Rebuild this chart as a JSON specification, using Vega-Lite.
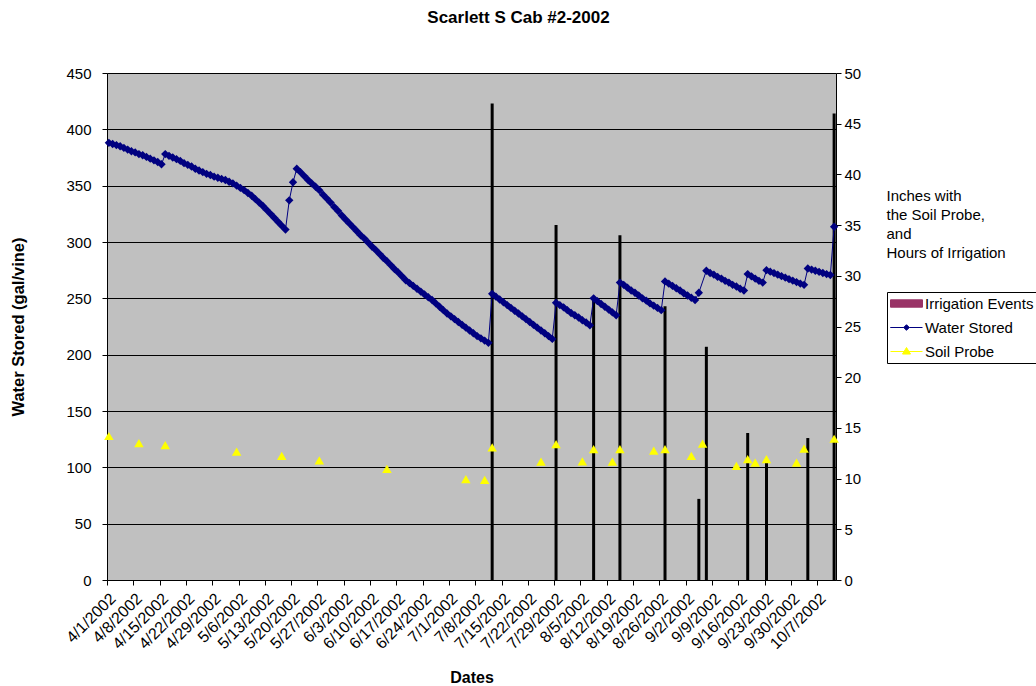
{
  "$schema": "https://vega.github.io/schema/vega-lite/v6.json",
  "width": 729,
  "height": 507,
  "autosize": {"type": "none"},
  "padding": {"left": 107, "top": 73, "right": 200, "bottom": 106},
  "background": "white",
  "title": {"text": "Scarlett S Cab #2-2002", "font": "Liberation Sans", "fontSize": 17, "fontWeight": "bold", "color": "black", "anchor": "middle", "dx": 47, "baseline": "middle", "offset": 31},
  "datasets": {
    "water": [
      {"date":"2002-04-01T00:00","gal":388},{"date":"2002-04-02T00:00","gal":387},{"date":"2002-04-03T00:00","gal":386},{"date":"2002-04-04T00:00","gal":385},{"date":"2002-04-05T00:00","gal":383.5},{"date":"2002-04-06T00:00","gal":382},{"date":"2002-04-07T00:00","gal":380.5},{"date":"2002-04-08T00:00","gal":379.5},{"date":"2002-04-09T00:00","gal":378},{"date":"2002-04-10T00:00","gal":377},{"date":"2002-04-11T00:00","gal":375.5},{"date":"2002-04-12T00:00","gal":374},{"date":"2002-04-13T00:00","gal":372.5},{"date":"2002-04-14T00:00","gal":371},{"date":"2002-04-15T00:00","gal":369},{"date":"2002-04-16T00:00","gal":378},{"date":"2002-04-17T00:00","gal":376.5},{"date":"2002-04-18T00:00","gal":375},{"date":"2002-04-19T00:00","gal":373.5},{"date":"2002-04-20T00:00","gal":372},{"date":"2002-04-21T00:00","gal":370},{"date":"2002-04-22T00:00","gal":368.5},{"date":"2002-04-23T00:00","gal":367},{"date":"2002-04-24T00:00","gal":365},{"date":"2002-04-25T00:00","gal":363.5},{"date":"2002-04-26T00:00","gal":362},{"date":"2002-04-27T00:00","gal":360.5},{"date":"2002-04-28T00:00","gal":359.5},{"date":"2002-04-29T00:00","gal":358},{"date":"2002-04-30T00:00","gal":357},
      {"date":"2002-05-01T00:00","gal":356},{"date":"2002-05-02T00:00","gal":355},{"date":"2002-05-03T00:00","gal":353.5},{"date":"2002-05-04T00:00","gal":352},{"date":"2002-05-05T00:00","gal":350},{"date":"2002-05-06T00:00","gal":348},{"date":"2002-05-07T00:00","gal":346},{"date":"2002-05-08T00:00","gal":343.5},{"date":"2002-05-09T00:00","gal":341},{"date":"2002-05-10T00:00","gal":338},{"date":"2002-05-11T00:00","gal":335},{"date":"2002-05-12T00:00","gal":332},{"date":"2002-05-13T00:00","gal":328.5},{"date":"2002-05-14T00:00","gal":325},{"date":"2002-05-15T00:00","gal":321.5},{"date":"2002-05-16T00:00","gal":318},{"date":"2002-05-17T00:00","gal":314.5},{"date":"2002-05-18T00:00","gal":311},{"date":"2002-05-19T00:00","gal":337},{"date":"2002-05-20T00:00","gal":353},{"date":"2002-05-21T00:00","gal":365},{"date":"2002-05-22T00:00","gal":362},{"date":"2002-05-23T00:00","gal":358.5},{"date":"2002-05-24T00:00","gal":355},{"date":"2002-05-25T00:00","gal":352},{"date":"2002-05-26T00:00","gal":349},{"date":"2002-05-27T00:00","gal":346},{"date":"2002-05-28T00:00","gal":342},{"date":"2002-05-29T00:00","gal":338.5},{"date":"2002-05-30T00:00","gal":335},{"date":"2002-05-31T00:00","gal":331},
      {"date":"2002-06-01T00:00","gal":327.5},{"date":"2002-06-02T00:00","gal":323.5},{"date":"2002-06-03T00:00","gal":320},{"date":"2002-06-04T00:00","gal":316.5},{"date":"2002-06-05T00:00","gal":313},{"date":"2002-06-06T00:00","gal":309.5},{"date":"2002-06-07T00:00","gal":306},{"date":"2002-06-08T00:00","gal":303},{"date":"2002-06-09T00:00","gal":299.5},{"date":"2002-06-10T00:00","gal":296},{"date":"2002-06-11T00:00","gal":293},{"date":"2002-06-12T00:00","gal":289.5},{"date":"2002-06-13T00:00","gal":286},{"date":"2002-06-14T00:00","gal":283},{"date":"2002-06-15T00:00","gal":279.5},{"date":"2002-06-16T00:00","gal":276},{"date":"2002-06-17T00:00","gal":273},{"date":"2002-06-18T00:00","gal":269.5},{"date":"2002-06-19T00:00","gal":266},{"date":"2002-06-20T00:00","gal":263.5},{"date":"2002-06-21T00:00","gal":261},{"date":"2002-06-22T00:00","gal":258.5},{"date":"2002-06-23T00:00","gal":256},{"date":"2002-06-24T00:00","gal":253.5},{"date":"2002-06-25T00:00","gal":251},{"date":"2002-06-26T00:00","gal":248.5},{"date":"2002-06-27T00:00","gal":245.5},{"date":"2002-06-28T00:00","gal":242.5},{"date":"2002-06-29T00:00","gal":239.5},{"date":"2002-06-30T00:00","gal":236.5},
      {"date":"2002-07-01T00:00","gal":234},{"date":"2002-07-02T00:00","gal":231.5},{"date":"2002-07-03T00:00","gal":229},{"date":"2002-07-04T00:00","gal":226.5},{"date":"2002-07-05T00:00","gal":224},{"date":"2002-07-06T00:00","gal":221.5},{"date":"2002-07-07T00:00","gal":219},{"date":"2002-07-08T00:00","gal":216.5},{"date":"2002-07-09T00:00","gal":214.5},{"date":"2002-07-10T00:00","gal":212.5},{"date":"2002-07-11T00:00","gal":210.5},{"date":"2002-07-12T00:00","gal":254},{"date":"2002-07-13T00:00","gal":251.5},{"date":"2002-07-14T00:00","gal":249},{"date":"2002-07-15T00:00","gal":246.5},{"date":"2002-07-16T00:00","gal":244},{"date":"2002-07-17T00:00","gal":241.5},{"date":"2002-07-18T00:00","gal":239},{"date":"2002-07-19T00:00","gal":236.5},{"date":"2002-07-20T00:00","gal":234},{"date":"2002-07-21T00:00","gal":231.5},{"date":"2002-07-22T00:00","gal":229},{"date":"2002-07-23T00:00","gal":226.5},{"date":"2002-07-24T00:00","gal":224},{"date":"2002-07-25T00:00","gal":221.5},{"date":"2002-07-26T00:00","gal":219},{"date":"2002-07-27T00:00","gal":216.5},{"date":"2002-07-28T00:00","gal":214},{"date":"2002-07-29T00:00","gal":246},{"date":"2002-07-30T00:00","gal":244},{"date":"2002-07-31T00:00","gal":242},
      {"date":"2002-08-01T00:00","gal":239.5},{"date":"2002-08-02T00:00","gal":237},{"date":"2002-08-03T00:00","gal":235},{"date":"2002-08-04T00:00","gal":233},{"date":"2002-08-05T00:00","gal":230.5},{"date":"2002-08-06T00:00","gal":228.5},{"date":"2002-08-07T00:00","gal":226},{"date":"2002-08-08T00:00","gal":250},{"date":"2002-08-09T00:00","gal":247.5},{"date":"2002-08-10T00:00","gal":245},{"date":"2002-08-11T00:00","gal":242.5},{"date":"2002-08-12T00:00","gal":240},{"date":"2002-08-13T00:00","gal":237.5},{"date":"2002-08-14T00:00","gal":235},{"date":"2002-08-15T00:00","gal":264},{"date":"2002-08-16T00:00","gal":262},{"date":"2002-08-17T00:00","gal":259.5},{"date":"2002-08-18T00:00","gal":257},{"date":"2002-08-19T00:00","gal":255},{"date":"2002-08-20T00:00","gal":252.5},{"date":"2002-08-21T00:00","gal":250},{"date":"2002-08-22T00:00","gal":248},{"date":"2002-08-23T00:00","gal":245.5},{"date":"2002-08-24T00:00","gal":243.5},{"date":"2002-08-25T00:00","gal":241.5},{"date":"2002-08-26T00:00","gal":239.5},{"date":"2002-08-27T00:00","gal":265},{"date":"2002-08-28T00:00","gal":263},{"date":"2002-08-29T00:00","gal":261},{"date":"2002-08-30T00:00","gal":259},{"date":"2002-08-31T00:00","gal":257},
      {"date":"2002-09-01T00:00","gal":254.5},{"date":"2002-09-02T00:00","gal":252.5},{"date":"2002-09-03T00:00","gal":250.5},{"date":"2002-09-04T00:00","gal":248.5},{"date":"2002-09-05T00:00","gal":255},{"date":"2002-09-07T00:00","gal":274.5},{"date":"2002-09-08T00:00","gal":272.5},{"date":"2002-09-09T00:00","gal":271},{"date":"2002-09-10T00:00","gal":269},{"date":"2002-09-11T00:00","gal":267.5},{"date":"2002-09-12T00:00","gal":265.5},{"date":"2002-09-13T00:00","gal":264},{"date":"2002-09-14T00:00","gal":262},{"date":"2002-09-15T00:00","gal":260.5},{"date":"2002-09-16T00:00","gal":258.5},{"date":"2002-09-17T00:00","gal":257},{"date":"2002-09-18T00:00","gal":271.5},{"date":"2002-09-19T00:00","gal":269.5},{"date":"2002-09-20T00:00","gal":267.5},{"date":"2002-09-21T00:00","gal":265.5},{"date":"2002-09-22T00:00","gal":264},{"date":"2002-09-23T00:00","gal":275},{"date":"2002-09-24T00:00","gal":273.7},{"date":"2002-09-25T00:00","gal":272.4},{"date":"2002-09-26T00:00","gal":271},{"date":"2002-09-27T00:00","gal":269.7},{"date":"2002-09-28T00:00","gal":268.4},{"date":"2002-09-29T00:00","gal":267},{"date":"2002-09-30T00:00","gal":265.7},
      {"date":"2002-10-01T00:00","gal":264.4},{"date":"2002-10-02T00:00","gal":263.1},{"date":"2002-10-03T00:00","gal":262},{"date":"2002-10-04T00:00","gal":276.5},{"date":"2002-10-05T00:00","gal":275.5},{"date":"2002-10-06T00:00","gal":274.5},{"date":"2002-10-07T00:00","gal":273.5},{"date":"2002-10-08T00:00","gal":272.5},{"date":"2002-10-09T00:00","gal":271.5},{"date":"2002-10-10T00:00","gal":270.7},{"date":"2002-10-11T00:00","gal":313.5}
    ],
    "irrigation": [
      {"date":"2002-07-12T00:00","hours":47},{"date":"2002-07-29T00:00","hours":35},{"date":"2002-08-08T00:00","hours":28},{"date":"2002-08-15T00:00","hours":34},{"date":"2002-08-27T00:00","hours":27},{"date":"2002-09-05T00:00","hours":8},{"date":"2002-09-07T00:00","hours":23},{"date":"2002-09-18T00:00","hours":14.5},{"date":"2002-09-23T00:00","hours":12},{"date":"2002-10-04T00:00","hours":14},{"date":"2002-10-11T00:00","hours":46}
    ],
    "probe": [
      {"date":"2002-04-01T00:00","inches":14.2},{"date":"2002-04-09T00:00","inches":13.5},{"date":"2002-04-16T00:00","inches":13.3},{"date":"2002-05-05T00:00","inches":12.65},{"date":"2002-05-17T00:00","inches":12.25},{"date":"2002-05-27T00:00","inches":11.8},{"date":"2002-06-14T00:00","inches":10.95},{"date":"2002-07-05T00:00","inches":9.95},{"date":"2002-07-10T00:00","inches":9.87},{"date":"2002-07-12T00:00","inches":13.07},{"date":"2002-07-25T00:00","inches":11.67},{"date":"2002-07-29T00:00","inches":13.4},{"date":"2002-08-05T00:00","inches":11.7},{"date":"2002-08-08T00:00","inches":12.9},{"date":"2002-08-13T00:00","inches":11.67},{"date":"2002-08-15T00:00","inches":12.9},{"date":"2002-08-24T00:00","inches":12.75},{"date":"2002-08-27T00:00","inches":12.9},{"date":"2002-09-03T00:00","inches":12.25},{"date":"2002-09-06T00:00","inches":13.45},{"date":"2002-09-15T00:00","inches":11.25},{"date":"2002-09-18T00:00","inches":11.93},{"date":"2002-09-20T00:00","inches":11.57},{"date":"2002-09-23T00:00","inches":11.93},{"date":"2002-10-01T00:00","inches":11.57},{"date":"2002-10-03T00:00","inches":12.95},{"date":"2002-10-11T00:00","inches":13.93}
    ]
  },
  "encoding": {
    "x": {
      "field": "date",
      "type": "temporal",
      "scale": {"domain": [{"year":2002,"month":3,"date":31,"hours":12},{"year":2002,"month":10,"date":11,"hours":12}], "nice": false, "padding": 0},
      "axis": {
        "values": [
          {"year":2002,"month":3,"date":31,"hours":12},{"year":2002,"month":4,"date":7,"hours":12},{"year":2002,"month":4,"date":14,"hours":12},{"year":2002,"month":4,"date":21,"hours":12},{"year":2002,"month":4,"date":28,"hours":12},
          {"year":2002,"month":5,"date":5,"hours":12},{"year":2002,"month":5,"date":12,"hours":12},{"year":2002,"month":5,"date":19,"hours":12},{"year":2002,"month":5,"date":26,"hours":12},
          {"year":2002,"month":6,"date":2,"hours":12},{"year":2002,"month":6,"date":9,"hours":12},{"year":2002,"month":6,"date":16,"hours":12},{"year":2002,"month":6,"date":23,"hours":12},{"year":2002,"month":6,"date":30,"hours":12},
          {"year":2002,"month":7,"date":7,"hours":12},{"year":2002,"month":7,"date":14,"hours":12},{"year":2002,"month":7,"date":21,"hours":12},{"year":2002,"month":7,"date":28,"hours":12},
          {"year":2002,"month":8,"date":4,"hours":12},{"year":2002,"month":8,"date":11,"hours":12},{"year":2002,"month":8,"date":18,"hours":12},{"year":2002,"month":8,"date":25,"hours":12},
          {"year":2002,"month":9,"date":1,"hours":12},{"year":2002,"month":9,"date":8,"hours":12},{"year":2002,"month":9,"date":15,"hours":12},{"year":2002,"month":9,"date":22,"hours":12},{"year":2002,"month":9,"date":29,"hours":12},
          {"year":2002,"month":10,"date":6,"hours":12}
        ],
        "labelExpr": "timeFormat(timeOffset('hours', datum.value, 12), '%-m/%-d/%Y')",
        "labelAngle": -45,
        "labelFontSize": 16,
        "labelPadding": 5,
        "labelOverlap": false,
        "labelFlush": false,
        "grid": false,
        "title": "Dates",
        "titleFontWeight": "bold",
        "titleFontSize": 16,
        "titleX": 364.5,
        "titleY": 97,
        "titleAlign": "center",
        "titleBaseline": "middle"
      }
    }
  },
  "layer": [
    {
      "data": {"name": "irrigation"},
      "mark": {"type": "bar", "color": "black", "width": 3},
      "encoding": {
        "y": {
          "field": "hours",
          "type": "quantitative",
          "scale": {"domain": [0, 50], "nice": false},
          "axis": {
            "orient": "right",
            "values": [0,5,10,15,20,25,30,35,40,45,50],
            "grid": false,
            "labelPadding": 3,
            "title": ["Inches with", "the Soil Probe,", "and", "Hours of Irrigation"],
            "titleAngle": 0,
            "titleAlign": "left",
            "titleBaseline": "top",
            "titleX": 50,
            "titleY": 115,
            "titleFontWeight": "normal",
            "titleFontSize": 15,
            "titleLineHeight": 19
          }
        }
      }
    },
    {
      "data": {"name": "water"},
      "mark": {"type": "line", "strokeWidth": 1, "point": {"shape": "diamond", "size": 70, "filled": true}},
      "encoding": {
        "y": {
          "field": "gal",
          "type": "quantitative",
          "scale": {"domain": [0, 450], "nice": false},
          "axis": {
            "orient": "left",
            "values": [0,50,100,150,200,250,300,350,400,450],
            "grid": true,
            "labelPadding": 11,
            "title": "Water Stored (gal/vine)",
            "titleFontWeight": "bold",
            "titleFontSize": 16.5,
            "titleX": -89,
            "titleY": 253.5,
            "titleAlign": "center",
            "titleBaseline": "middle",
            "titleAngle": -90
          }
        },
        "color": {
          "datum": "Water Stored",
          "type": "nominal",
          "scale": {"domain": ["Irrigation Events", "Water Stored", "Soil Probe"], "range": ["#993366", "#000080", "#FFFF00"]},
          "legend": {
            "title": null,
            "orient": "none",
            "legendX": 780,
            "legendY": 219,
            "strokeColor": "black",
            "fillColor": "white",
            "padding": 3,
            "symbolSize": 256,
            "symbolStrokeWidth": 1,
            "labelFontSize": 15,
            "labelFont": "Liberation Sans",
            "labelColor": "black",
            "labelOffset": 18,
            "rowPadding": 7,
            "encode": {
              "symbols": {
                "update": {
                  "shape": {"signal": "datum.value === 'Irrigation Events' ? 'M-1,-0.46H3V0.46H-1Z' : datum.value === 'Water Stored' ? 'M-1,0H0.65L1,-0.35L1.35,0L1,0.35L0.65,0ZM1.35,0H3' : 'M-1,0H3M0.5,0.32L1,-0.5L1.5,0.32Z'"},
                  "fill": {"signal": "datum.value === 'Irrigation Events' ? '#993366' : datum.value === 'Water Stored' ? '#000080' : '#FFFF00'"},
                  "stroke": {"signal": "datum.value === 'Irrigation Events' ? 'black' : datum.value === 'Water Stored' ? '#000080' : '#FFFF00'"},
                  "strokeWidth": {"value": 1},
                  "size": {"value": 256},
                  "opacity": {"value": 1},
                  "fillOpacity": {"value": 1},
                  "strokeOpacity": {"value": 1}
                }
              }
            }
          }
        }
      }
    },
    {
      "data": {"name": "probe"},
      "mark": {"type": "point", "shape": "triangle-up", "filled": true, "size": 90, "opacity": 1},
      "encoding": {
        "y": {"field": "inches", "type": "quantitative", "scale": {"domain": [0, 50], "nice": false}, "axis": null},
        "color": {"datum": "Soil Probe", "type": "nominal"}
      }
    }
  ],
  "resolve": {"scale": {"y": "independent"}},
  "config": {
    "font": "Liberation Sans",
    "view": {"fill": "#C0C0C0", "stroke": null},
    "axis": {
      "labelFont": "Liberation Sans",
      "titleFont": "Liberation Sans",
      "labelFontSize": 15,
      "titleFontSize": 16,
      "labelColor": "black",
      "titleColor": "black",
      "domainColor": "black",
      "tickColor": "black",
      "gridColor": "black",
      "gridOpacity": 1,
      "gridWidth": 1,
      "tickSize": 5,
      "domainWidth": 1,
      "tickWidth": 1
    }
  }
}
